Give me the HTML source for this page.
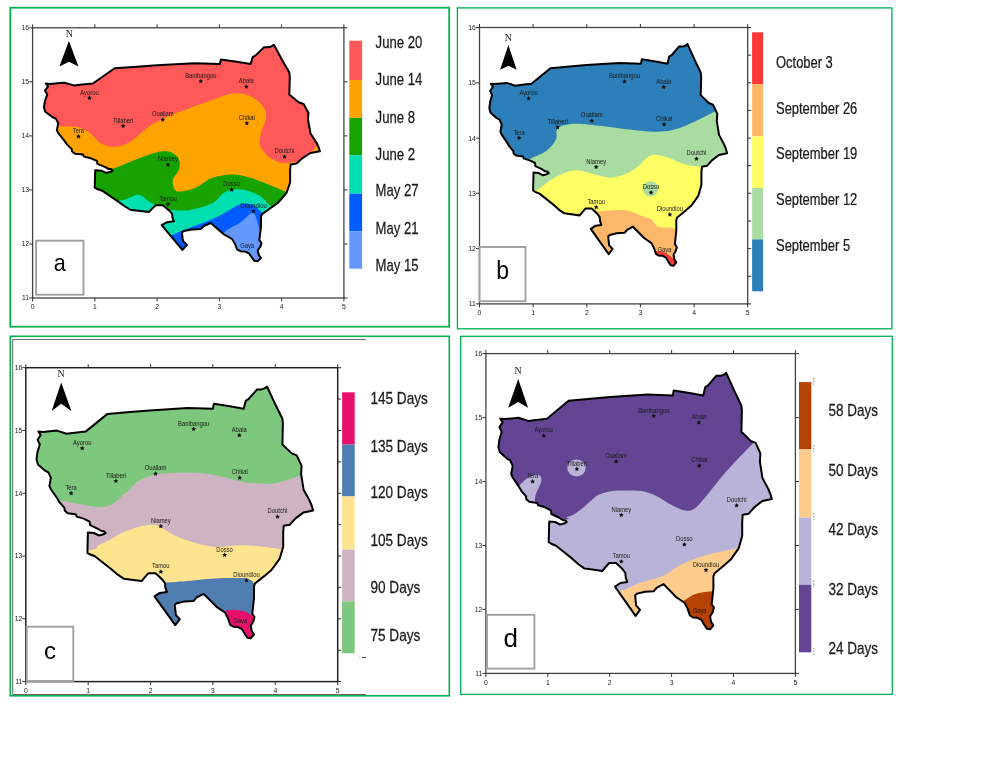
<!DOCTYPE html>
<html><head><meta charset="utf-8"><style>
html,body{margin:0;padding:0;background:#fff;}
body{width:1007px;height:776px;overflow:hidden;}
svg{display:block;font-family:"Liberation Sans", sans-serif;will-change:transform;}
</style></head><body>
<svg width="1007" height="776" viewBox="0 0 1007 776">
<rect width="1007" height="776" fill="#fff"/>
<rect x="10.3" y="7.7" width="438.9" height="319.0" fill="none" stroke="#00B050" stroke-width="1.8"/>
<rect x="457.4" y="7.9" width="434.5" height="320.9" fill="none" stroke="#00B050" stroke-width="1.3"/>
<rect x="10.3" y="336.3" width="439.0" height="359.5" fill="none" stroke="#00B050" stroke-width="1.6"/>
<rect x="460.7" y="336.3" width="431.6" height="358.1" fill="none" stroke="#00B050" stroke-width="1.3"/>
<path d="M366 339.6 H12.7 V694.5 H366" fill="none" stroke="#666" stroke-width="1"/>
<rect x="32.6" y="27.8" width="311.3" height="270.2" fill="none" stroke="#444" stroke-width="1.30"/><line x1="32.6" y1="298.0" x2="32.6" y2="301.5" stroke="#333" stroke-width="1"/><line x1="32.6" y1="24.3" x2="32.6" y2="27.8" stroke="#333" stroke-width="1"/><text x="32.6" y="309.3" font-size="6.8" text-anchor="middle" fill="#222">0</text><line x1="94.9" y1="298.0" x2="94.9" y2="301.5" stroke="#333" stroke-width="1"/><line x1="94.9" y1="24.3" x2="94.9" y2="27.8" stroke="#333" stroke-width="1"/><text x="94.9" y="309.3" font-size="6.8" text-anchor="middle" fill="#222">1</text><line x1="157.1" y1="298.0" x2="157.1" y2="301.5" stroke="#333" stroke-width="1"/><line x1="157.1" y1="24.3" x2="157.1" y2="27.8" stroke="#333" stroke-width="1"/><text x="157.1" y="309.3" font-size="6.8" text-anchor="middle" fill="#222">2</text><line x1="219.4" y1="298.0" x2="219.4" y2="301.5" stroke="#333" stroke-width="1"/><line x1="219.4" y1="24.3" x2="219.4" y2="27.8" stroke="#333" stroke-width="1"/><text x="219.4" y="309.3" font-size="6.8" text-anchor="middle" fill="#222">3</text><line x1="281.6" y1="298.0" x2="281.6" y2="301.5" stroke="#333" stroke-width="1"/><line x1="281.6" y1="24.3" x2="281.6" y2="27.8" stroke="#333" stroke-width="1"/><text x="281.6" y="309.3" font-size="6.8" text-anchor="middle" fill="#222">4</text><line x1="343.9" y1="298.0" x2="343.9" y2="301.5" stroke="#333" stroke-width="1"/><line x1="343.9" y1="24.3" x2="343.9" y2="27.8" stroke="#333" stroke-width="1"/><text x="343.9" y="309.3" font-size="6.8" text-anchor="middle" fill="#222">5</text><line x1="29.1" y1="27.8" x2="32.6" y2="27.8" stroke="#333" stroke-width="1"/><line x1="343.9" y1="27.8" x2="347.4" y2="27.8" stroke="#333" stroke-width="1"/><text x="29.0" y="30.2" font-size="6.8" text-anchor="end" fill="#222">16</text><line x1="29.1" y1="81.8" x2="32.6" y2="81.8" stroke="#333" stroke-width="1"/><line x1="343.9" y1="81.8" x2="347.4" y2="81.8" stroke="#333" stroke-width="1"/><text x="29.0" y="84.2" font-size="6.8" text-anchor="end" fill="#222">15</text><line x1="29.1" y1="135.9" x2="32.6" y2="135.9" stroke="#333" stroke-width="1"/><line x1="343.9" y1="135.9" x2="347.4" y2="135.9" stroke="#333" stroke-width="1"/><text x="29.0" y="138.3" font-size="6.8" text-anchor="end" fill="#222">14</text><line x1="29.1" y1="189.9" x2="32.6" y2="189.9" stroke="#333" stroke-width="1"/><line x1="343.9" y1="189.9" x2="347.4" y2="189.9" stroke="#333" stroke-width="1"/><text x="29.0" y="192.3" font-size="6.8" text-anchor="end" fill="#222">13</text><line x1="29.1" y1="244.0" x2="32.6" y2="244.0" stroke="#333" stroke-width="1"/><line x1="343.9" y1="244.0" x2="347.4" y2="244.0" stroke="#333" stroke-width="1"/><text x="29.0" y="246.4" font-size="6.8" text-anchor="end" fill="#222">12</text><line x1="29.1" y1="298.0" x2="32.6" y2="298.0" stroke="#333" stroke-width="1"/><line x1="343.9" y1="298.0" x2="347.4" y2="298.0" stroke="#333" stroke-width="1"/><text x="29.0" y="300.4" font-size="6.8" text-anchor="end" fill="#222">11</text>
<clipPath id="clipa"><path d="M45.8 83.5 L50.3 83.9 L57.3 83.3 L64.1 82.7 L74.0 85.4 L82.0 84.6 L92.9 83.5 L114.7 68.3 L137.2 66.8 L156.9 65.3 L194.6 63.2 L219.9 63.9 L220.9 59.6 L236.8 61.8 L250.7 63.9 L252.7 57.1 L255.7 55.4 L264.1 47.3 L268.5 47.3 L271.4 46.4 L273.9 44.8 L282.4 60.5 L289.3 72.4 L289.8 76.7 L289.3 94.6 L298.6 102.3 L303.6 104.0 L308.5 112.9 L308.0 119.8 L310.5 133.5 L316.5 142.8 L318.4 146.6 L319.9 151.3 L310.5 153.0 L302.5 158.1 L296.6 163.6 L290.6 164.5 L290.1 170.5 L290.1 182.5 L286.6 192.7 L281.7 198.6 L278.4 202.4 L270.7 208.0 L262.0 214.1 L261.0 216.5 L261.0 226.8 L259.9 235.3 L259.3 240.0 L261.5 242.9 L260.4 246.6 L257.7 250.4 L258.8 255.1 L261.0 257.9 L257.7 261.2 L254.4 260.8 L252.2 257.9 L248.9 253.2 L244.4 251.4 L240.5 251.2 L237.2 249.6 L234.9 243.7 L232.0 239.0 L228.0 236.7 L223.5 234.1 L210.7 223.0 L203.8 226.0 L200.8 229.0 L191.9 229.5 L183.9 231.1 L181.9 232.4 L182.9 241.0 L186.9 244.8 L182.4 249.9 L161.7 225.2 L167.0 222.2 L174.0 221.3 L172.5 217.9 L172.0 213.7 L169.5 210.8 L166.5 208.2 L162.7 205.2 L155.7 205.2 L151.7 209.1 L148.8 212.0 L138.8 210.8 L130.9 210.0 L124.9 206.5 L118.0 201.4 L109.1 195.4 L102.2 190.7 L97.2 189.0 L94.7 187.7 L95.2 170.2 L101.2 170.7 L106.2 172.8 L110.1 172.0 L112.8 170.7 L111.2 169.1 L108.7 169.0 L104.8 166.9 L97.4 163.9 L96.9 160.9 L90.9 158.3 L84.0 156.6 L83.0 154.5 L75.0 153.7 L72.1 151.5 L71.6 148.9 L67.1 144.6 L64.1 140.4 L58.3 133.1 L56.8 130.2 L58.3 123.3 L55.8 118.6 L52.3 117.0 L45.4 111.8 L43.9 107.5 L44.9 101.1 L47.2 94.6 L45.0 90.6 L48.1 86.4Z"/></clipPath><g clip-path="url(#clipa)"><polygon points="0.0,0.0 400.0,0.0 400.0,400.0 0.0,400.0" fill="#FF5858"/><path d="M20.0 120.0 C26.2 121.0 47.4 124.9 57.0 126.1 C66.6 127.2 72.1 125.7 77.7 126.9 C83.3 128.1 86.7 130.7 90.4 133.3 C94.1 136.0 96.2 140.6 99.9 142.8 C103.6 145.1 107.8 146.8 112.6 146.8 C117.4 146.8 122.1 146.4 128.5 142.8 C134.9 139.2 143.4 130.1 150.8 125.3 C158.2 120.5 168.1 116.5 173.0 114.2 C177.9 112.0 174.9 113.7 180.0 111.8 C185.1 109.9 195.1 106.1 203.8 103.1 C212.5 100.1 224.5 94.7 232.4 93.6 C240.3 92.5 246.2 94.3 251.5 96.7 C256.8 99.1 261.8 104.2 264.2 107.9 C266.6 111.6 266.3 114.8 265.8 119.0 C265.3 123.2 262.0 129.0 261.0 133.3 C260.0 137.6 259.3 141.7 260.0 145.0 C260.7 148.3 263.0 150.7 265.0 153.0 C267.0 155.3 269.0 157.3 272.0 159.0 C275.0 160.7 278.3 162.5 283.0 163.0 C287.7 163.5 290.5 161.7 300.0 162.0 C309.5 162.3 333.3 164.5 340.0 165.0 L340.0 300.0 L20.0 300.0Z" fill="#FFA300"/><polygon points="309.0,154.5 316.5,146.0 326.0,149.0 323.0,157.0" fill="#FFA300"/><path d="M20.0 172.0 C32.5 171.7 79.6 170.6 95.0 170.0 C110.4 169.4 104.9 170.7 112.6 168.6 C120.3 166.5 132.5 160.4 141.2 157.5 C149.9 154.6 158.9 151.1 165.0 151.1 C171.1 151.1 175.4 154.6 177.8 157.5 C180.2 160.4 180.2 164.9 179.4 168.6 C178.6 172.3 173.8 176.2 173.0 179.7 C172.2 183.1 173.4 187.3 174.6 189.3 C175.8 191.3 176.4 191.9 180.0 191.6 C183.6 191.3 190.6 189.9 195.9 187.7 C201.2 185.4 205.7 180.3 211.8 178.1 C217.9 175.9 225.8 174.6 232.4 174.6 C239.0 174.6 244.9 176.2 251.5 178.1 C258.1 180.0 266.6 183.8 272.2 186.1 C277.8 188.3 281.1 189.8 284.9 191.6 C288.7 193.4 285.8 195.6 295.0 197.0 C304.2 198.4 332.5 199.5 340.0 200.0 L340.0 300.0 L20.0 300.0Z" fill="#18A200"/><path d="M100.0 195.0 C103.4 195.9 114.3 200.4 120.6 200.4 C126.9 200.4 133.5 194.8 138.0 194.8 C142.5 194.8 144.7 198.7 147.6 200.4 C150.5 202.1 153.1 203.5 155.5 205.1 C157.9 206.7 159.6 209.2 162.0 210.0 C164.4 210.8 165.1 209.9 169.8 209.9 C174.5 209.9 183.0 211.0 190.0 209.9 C197.0 208.8 206.1 206.5 211.8 203.6 C217.6 200.7 219.7 194.8 224.5 192.4 C229.3 190.0 234.6 188.8 240.4 189.3 C246.2 189.8 254.2 192.7 259.4 195.6 C264.6 198.5 266.3 203.5 271.4 206.7 C276.5 209.9 286.9 213.6 290.0 215.0 L290.0 300.0 L100.0 300.0Z" fill="#00DFB0"/><path d="M160.0 240.0 C161.9 239.2 167.2 237.1 171.4 235.3 C175.6 233.6 179.6 231.6 185.0 229.5 C190.4 227.4 197.8 225.1 203.8 222.6 C209.9 220.1 215.2 217.8 221.3 214.7 C227.4 211.6 235.1 205.9 240.4 204.3 C245.7 202.7 249.4 203.6 253.1 205.1 C256.8 206.6 259.0 210.6 262.6 213.1 C266.2 215.6 272.9 218.8 275.0 220.0 L275.0 300.0 L160.0 300.0Z" fill="#005CFF"/><path d="M210.0 250.0 C212.4 247.0 219.4 236.8 224.5 232.2 C229.6 227.6 235.6 225.8 240.4 222.6 C245.2 219.4 249.9 212.0 253.1 213.1 C256.3 214.2 257.9 225.3 259.4 229.0 C260.9 232.7 261.6 234.0 262.0 235.0 L280.0 300.0 L210.0 300.0Z" fill="#6598FF"/></g><path d="M45.8 83.5 L50.3 83.9 L57.3 83.3 L64.1 82.7 L74.0 85.4 L82.0 84.6 L92.9 83.5 L114.7 68.3 L137.2 66.8 L156.9 65.3 L194.6 63.2 L219.9 63.9 L220.9 59.6 L236.8 61.8 L250.7 63.9 L252.7 57.1 L255.7 55.4 L264.1 47.3 L268.5 47.3 L271.4 46.4 L273.9 44.8 L282.4 60.5 L289.3 72.4 L289.8 76.7 L289.3 94.6 L298.6 102.3 L303.6 104.0 L308.5 112.9 L308.0 119.8 L310.5 133.5 L316.5 142.8 L318.4 146.6 L319.9 151.3 L310.5 153.0 L302.5 158.1 L296.6 163.6 L290.6 164.5 L290.1 170.5 L290.1 182.5 L286.6 192.7 L281.7 198.6 L278.4 202.4 L270.7 208.0 L262.0 214.1 L261.0 216.5 L261.0 226.8 L259.9 235.3 L259.3 240.0 L261.5 242.9 L260.4 246.6 L257.7 250.4 L258.8 255.1 L261.0 257.9 L257.7 261.2 L254.4 260.8 L252.2 257.9 L248.9 253.2 L244.4 251.4 L240.5 251.2 L237.2 249.6 L234.9 243.7 L232.0 239.0 L228.0 236.7 L223.5 234.1 L210.7 223.0 L203.8 226.0 L200.8 229.0 L191.9 229.5 L183.9 231.1 L181.9 232.4 L182.9 241.0 L186.9 244.8 L182.4 249.9 L161.7 225.2 L167.0 222.2 L174.0 221.3 L172.5 217.9 L172.0 213.7 L169.5 210.8 L166.5 208.2 L162.7 205.2 L155.7 205.2 L151.7 209.1 L148.8 212.0 L138.8 210.8 L130.9 210.0 L124.9 206.5 L118.0 201.4 L109.1 195.4 L102.2 190.7 L97.2 189.0 L94.7 187.7 L95.2 170.2 L101.2 170.7 L106.2 172.8 L110.1 172.0 L112.8 170.7 L111.2 169.1 L108.7 169.0 L104.8 166.9 L97.4 163.9 L96.9 160.9 L90.9 158.3 L84.0 156.6 L83.0 154.5 L75.0 153.7 L72.1 151.5 L71.6 148.9 L67.1 144.6 L64.1 140.4 L58.3 133.1 L56.8 130.2 L58.3 123.3 L55.8 118.6 L52.3 117.0 L45.4 111.8 L43.9 107.5 L44.9 101.1 L47.2 94.6 L45.0 90.6 L48.1 86.4Z" fill="none" stroke="#000" stroke-width="2.0" stroke-linejoin="round"/><polygon points="89.49,95.38 90.23,96.87 91.87,97.10 90.68,98.26 90.96,99.90 89.49,99.13 88.02,99.90 88.30,98.26 87.11,97.10 88.76,96.87" fill="#111"/><text transform="translate(89.5 94.5) scale(0.86 1)" font-size="6.8" text-anchor="middle" fill="#1a1a1a">Ayorou</text><polygon points="123.13,123.40 123.86,124.89 125.50,125.12 124.32,126.28 124.60,127.92 123.13,127.15 121.66,127.92 121.94,126.28 120.75,125.12 122.39,124.89" fill="#111"/><text transform="translate(123.1 122.5) scale(0.86 1)" font-size="6.8" text-anchor="middle" fill="#1a1a1a">Tillaberi</text><polygon points="162.75,117.21 163.49,118.70 165.13,118.94 163.94,120.09 164.22,121.73 162.75,120.96 161.28,121.73 161.56,120.09 160.37,118.94 162.02,118.70" fill="#111"/><text transform="translate(162.8 116.3) scale(0.86 1)" font-size="6.8" text-anchor="middle" fill="#1a1a1a">Ouallam</text><polygon points="78.41,134.05 79.15,135.54 80.79,135.78 79.60,136.94 79.88,138.58 78.41,137.80 76.94,138.58 77.22,136.94 76.04,135.78 77.68,135.54" fill="#111"/><text transform="translate(78.4 133.2) scale(0.86 1)" font-size="6.8" text-anchor="middle" fill="#1a1a1a">Tera</text><polygon points="200.78,78.70 201.51,80.19 203.15,80.43 201.97,81.59 202.25,83.22 200.78,82.45 199.31,83.22 199.59,81.59 198.40,80.43 200.04,80.19" fill="#111"/><text transform="translate(200.8 77.8) scale(0.86 1)" font-size="6.8" text-anchor="middle" fill="#1a1a1a">Banibangou</text><polygon points="246.29,84.20 247.02,85.69 248.67,85.93 247.48,87.09 247.76,88.73 246.29,87.95 244.82,88.73 245.10,87.09 243.91,85.93 245.55,85.69" fill="#111"/><text transform="translate(246.3 83.3) scale(0.86 1)" font-size="6.8" text-anchor="middle" fill="#1a1a1a">Abala</text><polygon points="246.79,120.65 247.52,122.13 249.17,122.37 247.98,123.53 248.26,125.17 246.79,124.40 245.32,125.17 245.60,123.53 244.41,122.37 246.05,122.13" fill="#111"/><text transform="translate(246.8 119.7) scale(0.86 1)" font-size="6.8" text-anchor="middle" fill="#1a1a1a">Chikal</text><polygon points="167.94,162.33 168.68,163.82 170.32,164.06 169.13,165.22 169.41,166.85 167.94,166.08 166.47,166.85 166.75,165.22 165.56,164.06 167.21,163.82" fill="#111"/><text transform="translate(167.9 161.4) scale(0.86 1)" font-size="6.8" text-anchor="middle" fill="#1a1a1a">Niamey</text><polygon points="167.94,201.53 168.68,203.01 170.32,203.25 169.13,204.41 169.41,206.05 167.94,205.28 166.47,206.05 166.75,204.41 165.56,203.25 167.21,203.01" fill="#111"/><text transform="translate(167.9 200.6) scale(0.86 1)" font-size="6.8" text-anchor="middle" fill="#1a1a1a">Tamou</text><polygon points="231.62,187.17 232.35,188.66 234.00,188.90 232.81,190.06 233.09,191.69 231.62,190.92 230.15,191.69 230.43,190.06 229.24,188.90 230.88,188.66" fill="#111"/><text transform="translate(231.6 186.3) scale(0.86 1)" font-size="6.8" text-anchor="middle" fill="#1a1a1a">Dosso</text><polygon points="284.42,154.17 285.15,155.66 286.79,155.89 285.60,157.05 285.89,158.69 284.42,157.92 282.95,158.69 283.23,157.05 282.04,155.89 283.68,155.66" fill="#111"/><text transform="translate(284.4 153.3) scale(0.86 1)" font-size="6.8" text-anchor="middle" fill="#1a1a1a">Doutchi</text><polygon points="253.48,208.75 254.21,210.23 255.85,210.47 254.66,211.63 254.94,213.27 253.48,212.50 252.01,213.27 252.29,211.63 251.10,210.47 252.74,210.23" fill="#111"/><text transform="translate(253.5 207.8) scale(0.86 1)" font-size="6.8" text-anchor="middle" fill="#1a1a1a">Dioundiou</text><text transform="translate(247.1 248.1) scale(0.86 1)" font-size="6.8" text-anchor="middle" fill="#1a1a1a">Gaya</text>
<polygon points="68.9,41.1 78.5,66.5 68.9,61.8 59.4,66.5" fill="#000"/><text x="69.4" y="36.7" font-family="Liberation Serif, serif" font-size="10" text-anchor="middle" fill="#222">N</text>
<rect x="36.1" y="240.7" width="47.4" height="54.0" fill="#fff" stroke="#a0a0a0" stroke-width="1.9"/><text transform="translate(59.8 271.4) scale(0.900 1)" font-size="24.0" text-anchor="middle" fill="#000">a</text>
<rect x="349.3" y="40.7" width="12.8" height="39.3" fill="#FF5858"/><rect x="349.3" y="80.0" width="12.8" height="37.9" fill="#FFA300"/><rect x="349.3" y="117.9" width="12.8" height="37.5" fill="#18A200"/><rect x="349.3" y="155.4" width="12.8" height="38.3" fill="#00DFB0"/><rect x="349.3" y="193.7" width="12.8" height="37.5" fill="#005CFF"/><rect x="349.3" y="231.2" width="12.8" height="37.5" fill="#6598FF"/><text transform="translate(375.6 48.2) scale(0.800 1)" font-size="16.4" fill="#1a1a1a" stroke="#1a1a1a" stroke-width="0.25">June 20</text><text transform="translate(375.6 85.2) scale(0.800 1)" font-size="16.4" fill="#1a1a1a" stroke="#1a1a1a" stroke-width="0.25">June 14</text><text transform="translate(375.6 123.0) scale(0.800 1)" font-size="16.4" fill="#1a1a1a" stroke="#1a1a1a" stroke-width="0.25">June 8</text><text transform="translate(375.6 160.1) scale(0.800 1)" font-size="16.4" fill="#1a1a1a" stroke="#1a1a1a" stroke-width="0.25">June 2</text><text transform="translate(375.6 196.2) scale(0.800 1)" font-size="16.4" fill="#1a1a1a" stroke="#1a1a1a" stroke-width="0.25">May 27</text><text transform="translate(375.6 233.6) scale(0.800 1)" font-size="16.4" fill="#1a1a1a" stroke="#1a1a1a" stroke-width="0.25">May 21</text><text transform="translate(375.6 271.0) scale(0.800 1)" font-size="16.4" fill="#1a1a1a" stroke="#1a1a1a" stroke-width="0.25">May 15</text>
<rect x="479.5" y="27.5" width="268.2" height="276.4" fill="none" stroke="#444" stroke-width="1.30"/><line x1="479.5" y1="303.9" x2="479.5" y2="307.4" stroke="#333" stroke-width="1"/><line x1="479.5" y1="24.0" x2="479.5" y2="27.5" stroke="#333" stroke-width="1"/><text x="479.5" y="315.2" font-size="6.8" text-anchor="middle" fill="#222">0</text><line x1="533.1" y1="303.9" x2="533.1" y2="307.4" stroke="#333" stroke-width="1"/><line x1="533.1" y1="24.0" x2="533.1" y2="27.5" stroke="#333" stroke-width="1"/><text x="533.1" y="315.2" font-size="6.8" text-anchor="middle" fill="#222">1</text><line x1="586.8" y1="303.9" x2="586.8" y2="307.4" stroke="#333" stroke-width="1"/><line x1="586.8" y1="24.0" x2="586.8" y2="27.5" stroke="#333" stroke-width="1"/><text x="586.8" y="315.2" font-size="6.8" text-anchor="middle" fill="#222">2</text><line x1="640.4" y1="303.9" x2="640.4" y2="307.4" stroke="#333" stroke-width="1"/><line x1="640.4" y1="24.0" x2="640.4" y2="27.5" stroke="#333" stroke-width="1"/><text x="640.4" y="315.2" font-size="6.8" text-anchor="middle" fill="#222">3</text><line x1="694.1" y1="303.9" x2="694.1" y2="307.4" stroke="#333" stroke-width="1"/><line x1="694.1" y1="24.0" x2="694.1" y2="27.5" stroke="#333" stroke-width="1"/><text x="694.1" y="315.2" font-size="6.8" text-anchor="middle" fill="#222">4</text><line x1="747.7" y1="303.9" x2="747.7" y2="307.4" stroke="#333" stroke-width="1"/><line x1="747.7" y1="24.0" x2="747.7" y2="27.5" stroke="#333" stroke-width="1"/><text x="747.7" y="315.2" font-size="6.8" text-anchor="middle" fill="#222">5</text><line x1="476.0" y1="27.5" x2="479.5" y2="27.5" stroke="#333" stroke-width="1"/><line x1="747.7" y1="27.5" x2="751.2" y2="27.5" stroke="#333" stroke-width="1"/><text x="475.9" y="29.9" font-size="6.8" text-anchor="end" fill="#222">16</text><line x1="476.0" y1="82.8" x2="479.5" y2="82.8" stroke="#333" stroke-width="1"/><line x1="747.7" y1="82.8" x2="751.2" y2="82.8" stroke="#333" stroke-width="1"/><text x="475.9" y="85.2" font-size="6.8" text-anchor="end" fill="#222">15</text><line x1="476.0" y1="138.1" x2="479.5" y2="138.1" stroke="#333" stroke-width="1"/><line x1="747.7" y1="138.1" x2="751.2" y2="138.1" stroke="#333" stroke-width="1"/><text x="475.9" y="140.5" font-size="6.8" text-anchor="end" fill="#222">14</text><line x1="476.0" y1="193.3" x2="479.5" y2="193.3" stroke="#333" stroke-width="1"/><line x1="747.7" y1="193.3" x2="751.2" y2="193.3" stroke="#333" stroke-width="1"/><text x="475.9" y="195.7" font-size="6.8" text-anchor="end" fill="#222">13</text><line x1="476.0" y1="248.6" x2="479.5" y2="248.6" stroke="#333" stroke-width="1"/><line x1="747.7" y1="248.6" x2="751.2" y2="248.6" stroke="#333" stroke-width="1"/><text x="475.9" y="251.0" font-size="6.8" text-anchor="end" fill="#222">12</text><line x1="476.0" y1="303.9" x2="479.5" y2="303.9" stroke="#333" stroke-width="1"/><line x1="747.7" y1="303.9" x2="751.2" y2="303.9" stroke="#333" stroke-width="1"/><text x="475.9" y="306.3" font-size="6.8" text-anchor="end" fill="#222">11</text><line x1="747.7" y1="55.1" x2="751.2" y2="55.1" stroke="#333" stroke-width="1"/><line x1="747.7" y1="110.4" x2="751.2" y2="110.4" stroke="#333" stroke-width="1"/><line x1="747.7" y1="165.7" x2="751.2" y2="165.7" stroke="#333" stroke-width="1"/><line x1="747.7" y1="221.0" x2="751.2" y2="221.0" stroke="#333" stroke-width="1"/><line x1="747.7" y1="276.3" x2="751.2" y2="276.3" stroke="#333" stroke-width="1"/>
<clipPath id="clipb"><path d="M490.9 83.8 L494.8 84.1 L500.8 83.5 L506.8 82.9 L515.3 85.7 L522.1 84.8 L531.5 83.8 L550.4 68.2 L569.7 66.6 L586.6 65.1 L619.1 62.9 L641.0 63.7 L641.8 59.3 L655.5 61.5 L667.5 63.7 L669.2 56.7 L671.8 55.0 L679.0 46.6 L682.9 46.6 L685.4 45.7 L687.5 44.1 L694.8 60.2 L700.7 72.4 L701.2 76.8 L700.7 95.1 L708.7 103.0 L713.0 104.7 L717.3 113.9 L716.8 120.9 L719.0 134.9 L724.1 144.5 L725.8 148.4 L727.1 153.2 L719.0 154.9 L712.1 160.2 L707.0 165.8 L701.9 166.7 L701.4 172.9 L701.4 185.1 L698.4 195.6 L694.2 201.7 L691.4 205.5 L684.8 211.3 L677.2 217.5 L676.3 220.0 L676.3 230.6 L675.4 239.3 L674.9 244.1 L676.8 247.0 L675.8 250.8 L673.5 254.7 L674.4 259.5 L676.3 262.4 L673.5 265.8 L670.7 265.3 L668.8 262.4 L665.9 257.6 L662.1 255.7 L658.7 255.6 L655.9 253.9 L653.9 247.9 L651.4 243.1 L648.0 240.7 L644.1 238.0 L633.0 226.7 L627.1 229.8 L624.5 232.8 L616.8 233.3 L609.9 235.0 L608.2 236.3 L609.1 245.1 L612.5 249.0 L608.7 254.2 L590.8 228.9 L595.4 225.8 L601.4 224.9 L600.1 221.4 L599.7 217.1 L597.6 214.2 L595.0 211.5 L591.6 208.4 L585.6 208.4 L582.2 212.4 L579.7 215.4 L571.1 214.2 L564.3 213.3 L559.1 209.8 L553.2 204.5 L545.5 198.4 L539.5 193.6 L535.2 191.8 L533.1 190.5 L533.5 172.6 L538.7 173.1 L543.0 175.3 L546.3 174.4 L548.7 173.1 L547.3 171.5 L545.1 171.3 L541.8 169.2 L535.4 166.1 L535.0 163.0 L529.8 160.4 L523.9 158.6 L523.0 156.5 L516.1 155.6 L513.6 153.4 L513.2 150.8 L509.3 146.4 L506.8 142.1 L501.7 134.6 L500.4 131.6 L501.7 124.5 L499.5 119.7 L496.5 118.0 L490.6 112.7 L489.3 108.3 L490.2 101.7 L492.1 95.1 L490.2 91.0 L492.9 86.8Z"/></clipPath><g clip-path="url(#clipb)"><polygon points="450.0,0.0 800.0,0.0 800.0,400.0 450.0,400.0" fill="#2C7FB8"/><path d="M520.0 165.0 C521.5 164.1 524.6 161.8 529.0 159.4 C533.4 157.0 542.0 154.0 546.5 150.7 C551.0 147.4 554.3 142.9 556.0 139.5 C557.7 136.1 555.5 132.4 556.8 130.0 C558.1 127.6 560.4 126.3 564.0 125.3 C567.6 124.2 571.9 123.6 578.3 123.7 C584.6 123.8 594.0 125.2 602.1 126.1 C610.2 127.0 617.4 128.4 626.8 129.3 C636.2 130.2 649.3 132.1 658.6 131.7 C667.9 131.3 673.1 130.2 682.4 126.9 C691.7 123.6 707.9 115.0 714.2 111.8 C720.5 108.6 712.4 109.1 720.0 108.0 C727.6 106.9 753.3 105.5 760.0 105.0 L760.0 320.0 L520.0 320.0Z" fill="#A8DCA0"/><path d="M520.0 200.0 C522.6 198.5 529.7 194.9 535.4 191.2 C541.1 187.5 548.0 181.1 554.4 177.7 C560.8 174.2 567.7 171.3 573.5 170.5 C579.3 169.7 583.3 171.7 589.4 172.9 C595.5 174.1 605.1 177.2 610.0 177.7 C614.9 178.2 615.8 176.9 618.8 176.1 C621.8 175.3 624.8 174.6 628.0 173.0 C631.2 171.4 634.1 169.4 637.9 166.5 C641.7 163.6 645.8 157.0 650.6 155.4 C655.4 153.8 660.9 155.5 666.5 157.0 C672.1 158.5 677.9 162.6 684.0 164.2 C690.1 165.8 697.0 166.2 703.0 166.5 C709.0 166.8 710.5 166.1 720.0 166.0 C729.5 165.9 753.3 166.0 760.0 166.0 L760.0 320.0 L520.0 320.0Z" fill="#FFFF64"/><circle cx="650.6" cy="188.8" r="7.6" fill="#A8DCA0"/><path d="M520.0 213.0 C529.5 213.1 563.1 213.7 576.7 213.4 C590.3 213.1 593.6 211.6 601.8 211.1 C609.9 210.6 619.0 209.5 625.6 210.3 C632.2 211.1 637.3 214.5 641.5 215.9 C645.7 217.3 647.7 217.2 650.6 219.0 C653.5 220.8 655.5 225.6 659.0 227.0 C662.5 228.4 668.5 227.3 671.3 227.7 C674.1 228.1 672.9 228.6 676.0 229.3 C679.1 230.0 676.0 231.6 690.0 232.0 C704.0 232.4 748.3 232.0 760.0 232.0 L760.0 320.0 L520.0 320.0Z" fill="#FCB868"/><path d="M645.0 249.0 C646.2 249.2 649.8 250.1 652.0 250.5 C654.2 250.9 656.0 250.9 658.0 251.2 C660.0 251.5 662.2 251.7 664.0 252.3 C665.8 252.9 667.1 253.9 668.5 254.8 C669.9 255.8 671.1 257.0 672.5 258.0 C673.9 259.0 674.9 260.2 677.0 261.0 C679.1 261.8 683.7 262.7 685.0 263.0 L685.0 300.0 L645.0 300.0Z" fill="#FF3838"/></g><path d="M490.9 83.8 L494.8 84.1 L500.8 83.5 L506.8 82.9 L515.3 85.7 L522.1 84.8 L531.5 83.8 L550.4 68.2 L569.7 66.6 L586.6 65.1 L619.1 62.9 L641.0 63.7 L641.8 59.3 L655.5 61.5 L667.5 63.7 L669.2 56.7 L671.8 55.0 L679.0 46.6 L682.9 46.6 L685.4 45.7 L687.5 44.1 L694.8 60.2 L700.7 72.4 L701.2 76.8 L700.7 95.1 L708.7 103.0 L713.0 104.7 L717.3 113.9 L716.8 120.9 L719.0 134.9 L724.1 144.5 L725.8 148.4 L727.1 153.2 L719.0 154.9 L712.1 160.2 L707.0 165.8 L701.9 166.7 L701.4 172.9 L701.4 185.1 L698.4 195.6 L694.2 201.7 L691.4 205.5 L684.8 211.3 L677.2 217.5 L676.3 220.0 L676.3 230.6 L675.4 239.3 L674.9 244.1 L676.8 247.0 L675.8 250.8 L673.5 254.7 L674.4 259.5 L676.3 262.4 L673.5 265.8 L670.7 265.3 L668.8 262.4 L665.9 257.6 L662.1 255.7 L658.7 255.6 L655.9 253.9 L653.9 247.9 L651.4 243.1 L648.0 240.7 L644.1 238.0 L633.0 226.7 L627.1 229.8 L624.5 232.8 L616.8 233.3 L609.9 235.0 L608.2 236.3 L609.1 245.1 L612.5 249.0 L608.7 254.2 L590.8 228.9 L595.4 225.8 L601.4 224.9 L600.1 221.4 L599.7 217.1 L597.6 214.2 L595.0 211.5 L591.6 208.4 L585.6 208.4 L582.2 212.4 L579.7 215.4 L571.1 214.2 L564.3 213.3 L559.1 209.8 L553.2 204.5 L545.5 198.4 L539.5 193.6 L535.2 191.8 L533.1 190.5 L533.5 172.6 L538.7 173.1 L543.0 175.3 L546.3 174.4 L548.7 173.1 L547.3 171.5 L545.1 171.3 L541.8 169.2 L535.4 166.1 L535.0 163.0 L529.8 160.4 L523.9 158.6 L523.0 156.5 L516.1 155.6 L513.6 153.4 L513.2 150.8 L509.3 146.4 L506.8 142.1 L501.7 134.6 L500.4 131.6 L501.7 124.5 L499.5 119.7 L496.5 118.0 L490.6 112.7 L489.3 108.3 L490.2 101.7 L492.1 95.1 L490.2 91.0 L492.9 86.8Z" fill="none" stroke="#000" stroke-width="2.0" stroke-linejoin="round"/><polygon points="528.60,95.97 529.33,97.46 530.98,97.70 529.79,98.86 530.07,100.49 528.60,99.72 527.13,100.49 527.41,98.86 526.22,97.70 527.86,97.46" fill="#111"/><text transform="translate(528.6 95.1) scale(0.86 1)" font-size="6.8" text-anchor="middle" fill="#1a1a1a">Ayorou</text><polygon points="557.58,124.68 558.31,126.17 559.95,126.40 558.76,127.56 559.05,129.20 557.58,128.43 556.11,129.20 556.39,127.56 555.20,126.40 556.84,126.17" fill="#111"/><text transform="translate(557.6 123.8) scale(0.86 1)" font-size="6.8" text-anchor="middle" fill="#1a1a1a">Tillaberi</text><polygon points="591.71,118.34 592.45,119.83 594.09,120.06 592.90,121.22 593.18,122.86 591.71,122.09 590.24,122.86 590.53,121.22 589.34,120.06 590.98,119.83" fill="#111"/><text transform="translate(591.7 117.4) scale(0.86 1)" font-size="6.8" text-anchor="middle" fill="#1a1a1a">Ouallam</text><polygon points="519.05,135.60 519.79,137.08 521.43,137.32 520.24,138.48 520.52,140.12 519.05,139.35 517.58,140.12 517.86,138.48 516.68,137.32 518.32,137.08" fill="#111"/><text transform="translate(519.1 134.7) scale(0.86 1)" font-size="6.8" text-anchor="middle" fill="#1a1a1a">Tera</text><polygon points="624.48,78.89 625.21,80.38 626.85,80.62 625.66,81.78 625.95,83.41 624.48,82.64 623.01,83.41 623.29,81.78 622.10,80.62 623.74,80.38" fill="#111"/><text transform="translate(624.5 78.0) scale(0.86 1)" font-size="6.8" text-anchor="middle" fill="#1a1a1a">Banibangou</text><polygon points="663.69,84.52 664.42,86.01 666.06,86.25 664.88,87.41 665.16,89.05 663.69,88.27 662.22,89.05 662.50,87.41 661.31,86.25 662.95,86.01" fill="#111"/><text transform="translate(663.7 83.6) scale(0.86 1)" font-size="6.8" text-anchor="middle" fill="#1a1a1a">Abala</text><polygon points="664.12,121.86 664.85,123.35 666.49,123.59 665.31,124.75 665.59,126.38 664.12,125.61 662.65,126.38 662.93,124.75 661.74,123.59 663.38,123.35" fill="#111"/><text transform="translate(664.1 121.0) scale(0.86 1)" font-size="6.8" text-anchor="middle" fill="#1a1a1a">Chikal</text><polygon points="596.19,164.56 596.92,166.05 598.56,166.29 597.37,167.45 597.65,169.09 596.19,168.31 594.72,169.09 595.00,167.45 593.81,166.29 595.45,166.05" fill="#111"/><text transform="translate(596.2 163.7) scale(0.86 1)" font-size="6.8" text-anchor="middle" fill="#1a1a1a">Niamey</text><polygon points="596.19,204.72 596.92,206.21 598.56,206.44 597.37,207.60 597.65,209.24 596.19,208.47 594.72,209.24 595.00,207.60 593.81,206.44 595.45,206.21" fill="#111"/><text transform="translate(596.2 203.8) scale(0.86 1)" font-size="6.8" text-anchor="middle" fill="#1a1a1a">Tamou</text><polygon points="651.05,190.01 651.78,191.50 653.42,191.74 652.24,192.90 652.52,194.53 651.05,193.76 649.58,194.53 649.86,192.90 648.67,191.74 650.31,191.50" fill="#111"/><text transform="translate(651.0 189.1) scale(0.86 1)" font-size="6.8" text-anchor="middle" fill="#1a1a1a">Dosso</text><polygon points="696.53,156.20 697.27,157.69 698.91,157.93 697.72,159.09 698.00,160.72 696.53,159.95 695.07,160.72 695.35,159.09 694.16,157.93 695.80,157.69" fill="#111"/><text transform="translate(696.5 155.3) scale(0.86 1)" font-size="6.8" text-anchor="middle" fill="#1a1a1a">Doutchi</text><polygon points="669.88,212.11 670.61,213.60 672.26,213.84 671.07,215.00 671.35,216.64 669.88,215.86 668.41,216.64 668.69,215.00 667.50,213.84 669.14,213.60" fill="#111"/><text transform="translate(669.9 211.2) scale(0.86 1)" font-size="6.8" text-anchor="middle" fill="#1a1a1a">Dioundiou</text><text transform="translate(664.4 252.3) scale(0.86 1)" font-size="6.8" text-anchor="middle" fill="#1a1a1a">Gaya</text>
<polygon points="508.4,45.1 516.6,69.7 508.4,65.7 500.1,69.7" fill="#000"/><text x="508.4" y="40.6" font-family="Liberation Serif, serif" font-size="10" text-anchor="middle" fill="#222">N</text>
<rect x="479.6" y="247.0" width="45.9" height="54.2" fill="#fff" stroke="#a0a0a0" stroke-width="1.9"/><text transform="translate(502.6 279.1) scale(0.920 1)" font-size="25.0" text-anchor="middle" fill="#000">b</text>
<rect x="752.1" y="32.3" width="11.0" height="51.7" fill="#FF3838"/><rect x="752.1" y="84.0" width="11.0" height="52.4" fill="#FCB868"/><rect x="752.1" y="136.4" width="11.0" height="51.6" fill="#FFFF64"/><rect x="752.1" y="188.0" width="11.0" height="51.4" fill="#A8DCA0"/><rect x="752.1" y="239.4" width="11.0" height="51.9" fill="#2C7FB8"/><text transform="translate(776.0 67.8) scale(0.825 1)" font-size="15.7" fill="#1a1a1a" stroke="#1a1a1a" stroke-width="0.25">October 3</text><text transform="translate(776.0 114.2) scale(0.825 1)" font-size="15.7" fill="#1a1a1a" stroke="#1a1a1a" stroke-width="0.25">September 26</text><text transform="translate(776.0 159.4) scale(0.825 1)" font-size="15.7" fill="#1a1a1a" stroke="#1a1a1a" stroke-width="0.25">September 19</text><text transform="translate(776.0 205.1) scale(0.825 1)" font-size="15.7" fill="#1a1a1a" stroke="#1a1a1a" stroke-width="0.25">September 12</text><text transform="translate(776.0 251.1) scale(0.825 1)" font-size="15.7" fill="#1a1a1a" stroke="#1a1a1a" stroke-width="0.25">September 5</text>
<rect x="25.8" y="367.7" width="311.9" height="313.9" fill="none" stroke="#222" stroke-width="1.50"/><line x1="25.8" y1="681.6" x2="25.8" y2="685.1" stroke="#333" stroke-width="1"/><line x1="25.8" y1="364.2" x2="25.8" y2="367.7" stroke="#333" stroke-width="1"/><text x="25.8" y="692.9" font-size="6.8" text-anchor="middle" fill="#222">0</text><line x1="88.2" y1="681.6" x2="88.2" y2="685.1" stroke="#333" stroke-width="1"/><line x1="88.2" y1="364.2" x2="88.2" y2="367.7" stroke="#333" stroke-width="1"/><text x="88.2" y="692.9" font-size="6.8" text-anchor="middle" fill="#222">1</text><line x1="150.6" y1="681.6" x2="150.6" y2="685.1" stroke="#333" stroke-width="1"/><line x1="150.6" y1="364.2" x2="150.6" y2="367.7" stroke="#333" stroke-width="1"/><text x="150.6" y="692.9" font-size="6.8" text-anchor="middle" fill="#222">2</text><line x1="212.9" y1="681.6" x2="212.9" y2="685.1" stroke="#333" stroke-width="1"/><line x1="212.9" y1="364.2" x2="212.9" y2="367.7" stroke="#333" stroke-width="1"/><text x="212.9" y="692.9" font-size="6.8" text-anchor="middle" fill="#222">3</text><line x1="275.3" y1="681.6" x2="275.3" y2="685.1" stroke="#333" stroke-width="1"/><line x1="275.3" y1="364.2" x2="275.3" y2="367.7" stroke="#333" stroke-width="1"/><text x="275.3" y="692.9" font-size="6.8" text-anchor="middle" fill="#222">4</text><line x1="337.7" y1="681.6" x2="337.7" y2="685.1" stroke="#333" stroke-width="1"/><line x1="337.7" y1="364.2" x2="337.7" y2="367.7" stroke="#333" stroke-width="1"/><text x="337.7" y="692.9" font-size="6.8" text-anchor="middle" fill="#222">5</text><line x1="22.3" y1="367.7" x2="25.8" y2="367.7" stroke="#333" stroke-width="1"/><line x1="337.7" y1="367.7" x2="341.2" y2="367.7" stroke="#333" stroke-width="1"/><text x="22.2" y="370.1" font-size="6.8" text-anchor="end" fill="#222">16</text><line x1="22.3" y1="430.5" x2="25.8" y2="430.5" stroke="#333" stroke-width="1"/><line x1="337.7" y1="430.5" x2="341.2" y2="430.5" stroke="#333" stroke-width="1"/><text x="22.2" y="432.9" font-size="6.8" text-anchor="end" fill="#222">15</text><line x1="22.3" y1="493.3" x2="25.8" y2="493.3" stroke="#333" stroke-width="1"/><line x1="337.7" y1="493.3" x2="341.2" y2="493.3" stroke="#333" stroke-width="1"/><text x="22.2" y="495.7" font-size="6.8" text-anchor="end" fill="#222">14</text><line x1="22.3" y1="556.0" x2="25.8" y2="556.0" stroke="#333" stroke-width="1"/><line x1="337.7" y1="556.0" x2="341.2" y2="556.0" stroke="#333" stroke-width="1"/><text x="22.2" y="558.4" font-size="6.8" text-anchor="end" fill="#222">13</text><line x1="22.3" y1="618.8" x2="25.8" y2="618.8" stroke="#333" stroke-width="1"/><line x1="337.7" y1="618.8" x2="341.2" y2="618.8" stroke="#333" stroke-width="1"/><text x="22.2" y="621.2" font-size="6.8" text-anchor="end" fill="#222">12</text><line x1="22.3" y1="681.6" x2="25.8" y2="681.6" stroke="#333" stroke-width="1"/><line x1="337.7" y1="681.6" x2="341.2" y2="681.6" stroke="#333" stroke-width="1"/><text x="22.2" y="684.0" font-size="6.8" text-anchor="end" fill="#222">11</text><line x1="337.7" y1="399.1" x2="341.2" y2="399.1" stroke="#333" stroke-width="1"/><line x1="337.7" y1="461.9" x2="341.2" y2="461.9" stroke="#333" stroke-width="1"/><line x1="337.7" y1="524.6" x2="341.2" y2="524.6" stroke="#333" stroke-width="1"/><line x1="337.7" y1="587.4" x2="341.2" y2="587.4" stroke="#333" stroke-width="1"/><line x1="337.7" y1="650.2" x2="341.2" y2="650.2" stroke="#333" stroke-width="1"/>
<clipPath id="clipc"><path d="M38.4 431.6 L42.9 432.0 L49.9 431.3 L56.8 430.6 L66.7 433.8 L74.7 432.8 L85.6 431.6 L107.5 413.9 L130.0 412.1 L149.7 410.4 L187.5 407.9 L212.9 408.8 L213.9 403.8 L229.8 406.3 L243.7 408.8 L245.7 400.9 L248.7 398.9 L257.1 389.4 L261.6 389.4 L264.5 388.4 L267.0 386.5 L275.5 404.8 L282.4 418.7 L282.9 423.7 L282.4 444.5 L291.7 453.4 L296.7 455.4 L301.6 465.8 L301.1 473.8 L303.6 489.7 L309.6 500.6 L311.5 505.0 L313.1 510.5 L303.6 512.4 L295.6 518.4 L289.7 524.8 L283.7 525.8 L283.2 532.8 L283.2 546.7 L279.7 558.6 L274.8 565.5 L271.5 569.9 L263.8 576.4 L255.0 583.5 L254.0 586.3 L254.0 598.3 L252.9 608.2 L252.3 613.7 L254.5 617.0 L253.4 621.3 L250.7 625.7 L251.8 631.2 L254.0 634.5 L250.7 638.3 L247.4 637.8 L245.2 634.5 L241.9 629.0 L237.4 626.9 L233.5 626.7 L230.2 624.8 L227.9 618.0 L225.0 612.5 L221.0 609.8 L216.5 606.8 L203.6 593.9 L196.7 597.4 L193.7 600.9 L184.8 601.4 L176.8 603.3 L174.8 604.8 L175.8 614.8 L179.8 619.2 L175.3 625.2 L154.5 596.4 L159.9 592.9 L166.9 591.9 L165.4 587.9 L164.9 583.0 L162.4 579.7 L159.4 576.7 L155.5 573.2 L148.5 573.2 L144.5 577.7 L141.6 581.1 L131.6 579.7 L123.7 578.7 L117.7 574.7 L110.8 568.7 L101.8 561.8 L94.9 556.3 L89.9 554.3 L87.4 552.8 L87.9 532.5 L93.9 533.0 L98.9 535.5 L102.8 534.5 L105.6 533.0 L104.0 531.2 L101.4 531.0 L97.5 528.6 L90.1 525.1 L89.6 521.6 L83.6 518.6 L76.7 516.6 L75.7 514.2 L67.7 513.2 L64.8 510.7 L64.3 507.7 L59.8 502.7 L56.8 497.8 L50.9 489.3 L49.4 485.9 L50.9 477.9 L48.4 472.4 L44.9 470.5 L38.0 464.5 L36.5 459.5 L37.5 452.0 L39.8 444.5 L37.6 439.8 L40.7 435.0Z"/></clipPath><g clip-path="url(#clipc)"><polygon points="0.0,340.0 400.0,340.0 400.0,700.0 0.0,700.0" fill="#7DC87D"/><path d="M20.0 500.0 C26.6 500.1 50.7 500.3 59.8 500.8 C68.9 501.3 69.4 502.3 74.7 503.2 C80.0 504.1 86.6 505.6 91.6 506.2 C96.6 506.8 100.7 507.3 104.5 506.7 C108.3 506.1 111.1 504.8 114.4 502.7 C117.7 500.6 121.7 496.0 124.3 493.8 C126.9 491.6 128.0 491.2 130.0 489.3 C132.0 487.4 133.4 484.6 136.2 482.5 C139.0 480.4 143.0 478.5 147.0 477.0 C151.0 475.5 155.3 474.4 160.0 473.7 C164.7 473.0 167.2 472.9 175.0 472.9 C182.8 472.9 196.2 472.4 206.8 473.7 C217.4 475.0 231.4 479.4 238.6 480.9 C245.8 482.4 244.8 482.2 250.0 482.7 C255.2 483.2 264.1 484.0 269.9 483.7 C275.7 483.4 279.8 482.0 284.8 480.7 C289.8 479.4 293.8 477.8 299.7 475.7 C305.6 473.6 312.4 469.3 320.0 468.0 C327.6 466.7 340.8 468.0 345.0 468.0 L345.0 690.0 L20.0 690.0Z" fill="#CEB3C2"/><path d="M20.0 552.0 C31.2 551.8 73.8 551.7 87.0 550.5 C100.2 549.3 95.2 546.8 99.0 545.0 C102.8 543.2 106.3 541.8 109.8 539.9 C113.3 538.0 116.7 535.5 120.0 533.8 C123.3 532.1 126.6 531.0 129.9 529.8 C133.2 528.6 135.8 527.2 139.9 526.4 C144.1 525.6 151.2 524.7 154.8 524.9 C158.4 525.1 159.2 526.5 161.7 527.8 C164.2 529.1 166.7 531.1 169.7 532.8 C172.7 534.5 175.5 536.1 179.6 537.8 C183.7 539.4 189.5 541.3 194.5 542.7 C199.5 544.1 204.8 545.5 209.4 546.2 C214.0 546.9 216.9 547.0 222.0 546.8 C227.1 546.6 233.7 545.3 240.0 545.2 C246.3 545.1 252.9 545.5 259.9 546.2 C266.8 546.9 275.0 548.4 281.7 549.2 C288.4 550.0 289.4 550.7 300.0 551.0 C310.6 551.3 337.5 551.0 345.0 551.0 L345.0 690.0 L20.0 690.0Z" fill="#FFE48F"/><path d="M100.0 583.0 C110.7 582.9 151.1 582.8 164.4 582.6 C177.7 582.4 172.2 582.2 180.0 581.6 C187.8 581.0 202.7 579.3 211.5 578.7 C220.3 578.1 227.5 578.2 233.1 578.1 C238.7 578.0 242.1 577.7 245.2 578.1 C248.3 578.5 250.2 579.9 251.8 580.8 C253.4 581.7 252.0 582.0 255.0 583.5 C258.0 585.0 255.0 588.9 270.0 590.0 C285.0 591.1 332.5 590.0 345.0 590.0 L345.0 690.0 L100.0 690.0Z" fill="#4F7DAF"/><path d="M200.0 612.0 C203.3 611.9 215.9 611.4 220.0 611.2 C224.1 611.0 222.0 611.1 224.4 610.9 C226.8 610.7 230.9 609.7 234.2 609.8 C237.5 609.9 241.0 610.5 244.1 611.5 C247.2 612.5 249.9 614.1 252.9 615.9 C255.9 617.6 260.5 621.0 262.0 622.0 L270.0 690.0 L200.0 690.0Z" fill="#E8106A"/></g><path d="M38.4 431.6 L42.9 432.0 L49.9 431.3 L56.8 430.6 L66.7 433.8 L74.7 432.8 L85.6 431.6 L107.5 413.9 L130.0 412.1 L149.7 410.4 L187.5 407.9 L212.9 408.8 L213.9 403.8 L229.8 406.3 L243.7 408.8 L245.7 400.9 L248.7 398.9 L257.1 389.4 L261.6 389.4 L264.5 388.4 L267.0 386.5 L275.5 404.8 L282.4 418.7 L282.9 423.7 L282.4 444.5 L291.7 453.4 L296.7 455.4 L301.6 465.8 L301.1 473.8 L303.6 489.7 L309.6 500.6 L311.5 505.0 L313.1 510.5 L303.6 512.4 L295.6 518.4 L289.7 524.8 L283.7 525.8 L283.2 532.8 L283.2 546.7 L279.7 558.6 L274.8 565.5 L271.5 569.9 L263.8 576.4 L255.0 583.5 L254.0 586.3 L254.0 598.3 L252.9 608.2 L252.3 613.7 L254.5 617.0 L253.4 621.3 L250.7 625.7 L251.8 631.2 L254.0 634.5 L250.7 638.3 L247.4 637.8 L245.2 634.5 L241.9 629.0 L237.4 626.9 L233.5 626.7 L230.2 624.8 L227.9 618.0 L225.0 612.5 L221.0 609.8 L216.5 606.8 L203.6 593.9 L196.7 597.4 L193.7 600.9 L184.8 601.4 L176.8 603.3 L174.8 604.8 L175.8 614.8 L179.8 619.2 L175.3 625.2 L154.5 596.4 L159.9 592.9 L166.9 591.9 L165.4 587.9 L164.9 583.0 L162.4 579.7 L159.4 576.7 L155.5 573.2 L148.5 573.2 L144.5 577.7 L141.6 581.1 L131.6 579.7 L123.7 578.7 L117.7 574.7 L110.8 568.7 L101.8 561.8 L94.9 556.3 L89.9 554.3 L87.4 552.8 L87.9 532.5 L93.9 533.0 L98.9 535.5 L102.8 534.5 L105.6 533.0 L104.0 531.2 L101.4 531.0 L97.5 528.6 L90.1 525.1 L89.6 521.6 L83.6 518.6 L76.7 516.6 L75.7 514.2 L67.7 513.2 L64.8 510.7 L64.3 507.7 L59.8 502.7 L56.8 497.8 L50.9 489.3 L49.4 485.9 L50.9 477.9 L48.4 472.4 L44.9 470.5 L38.0 464.5 L36.5 459.5 L37.5 452.0 L39.8 444.5 L37.6 439.8 L40.7 435.0Z" fill="none" stroke="#000" stroke-width="2.0" stroke-linejoin="round"/><polygon points="82.20,445.80 82.93,447.29 84.58,447.53 83.39,448.69 83.67,450.32 82.20,449.55 80.73,450.32 81.01,448.69 79.82,447.53 81.47,447.29" fill="#111"/><text transform="translate(82.2 444.9) scale(0.86 1)" font-size="6.8" text-anchor="middle" fill="#1a1a1a">Ayorou</text><polygon points="115.90,478.40 116.63,479.89 118.28,480.13 117.09,481.29 117.37,482.92 115.90,482.15 114.43,482.92 114.71,481.29 113.52,480.13 115.17,479.89" fill="#111"/><text transform="translate(115.9 477.5) scale(0.86 1)" font-size="6.8" text-anchor="middle" fill="#1a1a1a">Tillaberi</text><polygon points="155.60,471.20 156.33,472.69 157.98,472.93 156.79,474.09 157.07,475.72 155.60,474.95 154.13,475.72 154.41,474.09 153.22,472.93 154.87,472.69" fill="#111"/><text transform="translate(155.6 470.3) scale(0.86 1)" font-size="6.8" text-anchor="middle" fill="#1a1a1a">Ouallam</text><polygon points="71.10,490.80 71.83,492.29 73.48,492.53 72.29,493.69 72.57,495.32 71.10,494.55 69.63,495.32 69.91,493.69 68.72,492.53 70.37,492.29" fill="#111"/><text transform="translate(71.1 489.9) scale(0.86 1)" font-size="6.8" text-anchor="middle" fill="#1a1a1a">Tera</text><polygon points="193.70,426.40 194.43,427.89 196.08,428.13 194.89,429.29 195.17,430.92 193.70,430.15 192.23,430.92 192.51,429.29 191.32,428.13 192.97,427.89" fill="#111"/><text transform="translate(193.7 425.5) scale(0.86 1)" font-size="6.8" text-anchor="middle" fill="#1a1a1a">Banibangou</text><polygon points="239.30,432.80 240.03,434.29 241.68,434.53 240.49,435.69 240.77,437.32 239.30,436.55 237.83,437.32 238.11,435.69 236.92,434.53 238.57,434.29" fill="#111"/><text transform="translate(239.3 431.9) scale(0.86 1)" font-size="6.8" text-anchor="middle" fill="#1a1a1a">Abala</text><polygon points="239.80,475.20 240.53,476.69 242.18,476.93 240.99,478.09 241.27,479.72 239.80,478.95 238.33,479.72 238.61,478.09 237.42,476.93 239.07,476.69" fill="#111"/><text transform="translate(239.8 474.3) scale(0.86 1)" font-size="6.8" text-anchor="middle" fill="#1a1a1a">Chikal</text><polygon points="160.80,523.70 161.53,525.19 163.18,525.43 161.99,526.59 162.27,528.22 160.80,527.45 159.33,528.22 159.61,526.59 158.42,525.43 160.07,525.19" fill="#111"/><text transform="translate(160.8 522.8) scale(0.86 1)" font-size="6.8" text-anchor="middle" fill="#1a1a1a">Niamey</text><polygon points="160.80,569.30 161.53,570.79 163.18,571.03 161.99,572.19 162.27,573.82 160.80,573.05 159.33,573.82 159.61,572.19 158.42,571.03 160.07,570.79" fill="#111"/><text transform="translate(160.8 568.4) scale(0.86 1)" font-size="6.8" text-anchor="middle" fill="#1a1a1a">Tamou</text><polygon points="224.60,552.60 225.33,554.09 226.98,554.33 225.79,555.49 226.07,557.12 224.60,556.35 223.13,557.12 223.41,555.49 222.22,554.33 223.87,554.09" fill="#111"/><text transform="translate(224.6 551.7) scale(0.86 1)" font-size="6.8" text-anchor="middle" fill="#1a1a1a">Dosso</text><polygon points="277.50,514.20 278.23,515.69 279.88,515.93 278.69,517.09 278.97,518.72 277.50,517.95 276.03,518.72 276.31,517.09 275.12,515.93 276.77,515.69" fill="#111"/><text transform="translate(277.5 513.3) scale(0.86 1)" font-size="6.8" text-anchor="middle" fill="#1a1a1a">Doutchi</text><polygon points="246.50,577.70 247.23,579.19 248.88,579.43 247.69,580.59 247.97,582.22 246.50,581.45 245.03,582.22 245.31,580.59 244.12,579.43 245.77,579.19" fill="#111"/><text transform="translate(246.5 576.8) scale(0.86 1)" font-size="6.8" text-anchor="middle" fill="#1a1a1a">Dioundiou</text><text transform="translate(240.1 622.7) scale(0.86 1)" font-size="6.8" text-anchor="middle" fill="#1a1a1a">Gaya</text>
<polygon points="61.2,382.4 71.4,411.0 61.2,403.8 51.7,411.0" fill="#000"/><text x="61.0" y="377.4" font-family="Liberation Serif, serif" font-size="10" text-anchor="middle" fill="#222">N</text>
<rect x="26.7" y="626.7" width="46.6" height="54.3" fill="#fff" stroke="#a0a0a0" stroke-width="1.9"/><text transform="translate(50.0 658.6) scale(1.000 1)" font-size="24.0" text-anchor="middle" fill="#000">c</text>
<rect x="342.1" y="392.3" width="12.6" height="52.3" fill="#E8106A"/><rect x="342.1" y="444.6" width="12.6" height="51.8" fill="#4F7DAF"/><rect x="342.1" y="496.4" width="12.6" height="53.2" fill="#FFE48F"/><rect x="342.1" y="549.6" width="12.6" height="51.7" fill="#CEB3C2"/><rect x="342.1" y="601.3" width="12.6" height="52.0" fill="#7DC87D"/><text transform="translate(370.4 403.9) scale(0.840 1)" font-size="16.2" fill="#1a1a1a" stroke="#1a1a1a" stroke-width="0.25">145 Days</text><text transform="translate(370.4 451.5) scale(0.840 1)" font-size="16.2" fill="#1a1a1a" stroke="#1a1a1a" stroke-width="0.25">135 Days</text><text transform="translate(370.4 498.0) scale(0.840 1)" font-size="16.2" fill="#1a1a1a" stroke="#1a1a1a" stroke-width="0.25">120 Days</text><text transform="translate(370.4 546.3) scale(0.840 1)" font-size="16.2" fill="#1a1a1a" stroke="#1a1a1a" stroke-width="0.25">105 Days</text><text transform="translate(370.4 593.4) scale(0.840 1)" font-size="16.2" fill="#1a1a1a" stroke="#1a1a1a" stroke-width="0.25">90 Days</text><text transform="translate(370.4 640.9) scale(0.840 1)" font-size="16.2" fill="#1a1a1a" stroke="#1a1a1a" stroke-width="0.25">75 Days</text>
<line x1="359" y1="657.4" x2="360" y2="657.4" stroke="#888" stroke-width="0.8"/><line x1="362" y1="657.4" x2="366" y2="657.4" stroke="#444" stroke-width="1"/>
<rect x="485.9" y="353.6" width="309.5" height="319.8" fill="none" stroke="#444" stroke-width="1.30"/><line x1="485.9" y1="673.4" x2="485.9" y2="676.9" stroke="#333" stroke-width="1"/><line x1="485.9" y1="350.1" x2="485.9" y2="353.6" stroke="#333" stroke-width="1"/><text x="485.9" y="684.7" font-size="6.8" text-anchor="middle" fill="#222">0</text><line x1="547.8" y1="673.4" x2="547.8" y2="676.9" stroke="#333" stroke-width="1"/><line x1="547.8" y1="350.1" x2="547.8" y2="353.6" stroke="#333" stroke-width="1"/><text x="547.8" y="684.7" font-size="6.8" text-anchor="middle" fill="#222">1</text><line x1="609.7" y1="673.4" x2="609.7" y2="676.9" stroke="#333" stroke-width="1"/><line x1="609.7" y1="350.1" x2="609.7" y2="353.6" stroke="#333" stroke-width="1"/><text x="609.7" y="684.7" font-size="6.8" text-anchor="middle" fill="#222">2</text><line x1="671.6" y1="673.4" x2="671.6" y2="676.9" stroke="#333" stroke-width="1"/><line x1="671.6" y1="350.1" x2="671.6" y2="353.6" stroke="#333" stroke-width="1"/><text x="671.6" y="684.7" font-size="6.8" text-anchor="middle" fill="#222">3</text><line x1="733.5" y1="673.4" x2="733.5" y2="676.9" stroke="#333" stroke-width="1"/><line x1="733.5" y1="350.1" x2="733.5" y2="353.6" stroke="#333" stroke-width="1"/><text x="733.5" y="684.7" font-size="6.8" text-anchor="middle" fill="#222">4</text><line x1="795.4" y1="673.4" x2="795.4" y2="676.9" stroke="#333" stroke-width="1"/><line x1="795.4" y1="350.1" x2="795.4" y2="353.6" stroke="#333" stroke-width="1"/><text x="795.4" y="684.7" font-size="6.8" text-anchor="middle" fill="#222">5</text><line x1="482.4" y1="353.6" x2="485.9" y2="353.6" stroke="#333" stroke-width="1"/><line x1="795.4" y1="353.6" x2="798.9" y2="353.6" stroke="#333" stroke-width="1"/><text x="482.3" y="356.0" font-size="6.8" text-anchor="end" fill="#222">16</text><line x1="482.4" y1="417.6" x2="485.9" y2="417.6" stroke="#333" stroke-width="1"/><line x1="795.4" y1="417.6" x2="798.9" y2="417.6" stroke="#333" stroke-width="1"/><text x="482.3" y="420.0" font-size="6.8" text-anchor="end" fill="#222">15</text><line x1="482.4" y1="481.5" x2="485.9" y2="481.5" stroke="#333" stroke-width="1"/><line x1="795.4" y1="481.5" x2="798.9" y2="481.5" stroke="#333" stroke-width="1"/><text x="482.3" y="483.9" font-size="6.8" text-anchor="end" fill="#222">14</text><line x1="482.4" y1="545.5" x2="485.9" y2="545.5" stroke="#333" stroke-width="1"/><line x1="795.4" y1="545.5" x2="798.9" y2="545.5" stroke="#333" stroke-width="1"/><text x="482.3" y="547.9" font-size="6.8" text-anchor="end" fill="#222">13</text><line x1="482.4" y1="609.4" x2="485.9" y2="609.4" stroke="#333" stroke-width="1"/><line x1="795.4" y1="609.4" x2="798.9" y2="609.4" stroke="#333" stroke-width="1"/><text x="482.3" y="611.8" font-size="6.8" text-anchor="end" fill="#222">12</text><line x1="482.4" y1="673.4" x2="485.9" y2="673.4" stroke="#333" stroke-width="1"/><line x1="795.4" y1="673.4" x2="798.9" y2="673.4" stroke="#333" stroke-width="1"/><text x="482.3" y="675.8" font-size="6.8" text-anchor="end" fill="#222">11</text>
<clipPath id="clipd"><path d="M500.3 418.7 L504.7 419.1 L511.7 418.4 L518.5 417.7 L528.3 420.9 L536.2 419.9 L547.0 418.7 L568.6 400.7 L590.8 398.8 L610.3 397.1 L647.7 394.6 L672.8 395.5 L673.7 390.4 L689.5 392.9 L703.2 395.5 L705.2 387.4 L708.1 385.4 L716.4 375.7 L720.9 375.7 L723.8 374.7 L726.2 372.8 L734.6 391.4 L741.4 405.6 L741.9 410.7 L741.4 431.8 L750.6 440.9 L755.6 442.9 L760.4 453.5 L759.9 461.7 L762.4 477.9 L768.3 489.0 L770.2 493.5 L771.8 499.1 L762.4 501.0 L754.5 507.1 L748.7 513.7 L742.7 514.7 L742.2 521.8 L742.2 536.0 L738.8 548.1 L733.9 555.1 L730.7 559.6 L723.1 566.2 L714.4 573.5 L713.4 576.3 L713.4 588.5 L712.3 598.6 L711.7 604.2 L713.9 607.6 L712.8 612.0 L710.1 616.4 L711.2 622.1 L713.4 625.4 L710.1 629.3 L706.9 628.8 L704.7 625.4 L701.4 619.8 L697.0 617.7 L693.1 617.5 L689.9 615.5 L687.6 608.6 L684.7 603.0 L680.8 600.3 L676.3 597.2 L663.6 584.1 L656.8 587.6 L653.8 591.2 L645.0 591.7 L637.1 593.6 L635.1 595.2 L636.1 605.3 L640.0 609.8 L635.6 615.9 L615.0 586.6 L620.4 583.0 L627.3 582.0 L625.8 577.9 L625.3 572.9 L622.9 569.6 L619.9 566.5 L616.0 563.0 L609.1 563.0 L605.2 567.5 L602.3 571.0 L592.4 569.6 L584.6 568.6 L578.7 564.5 L571.9 558.4 L563.0 551.3 L556.1 545.7 L551.2 543.7 L548.7 542.2 L549.2 521.5 L555.2 522.0 L560.1 524.6 L563.9 523.5 L566.7 522.0 L565.1 520.2 L562.6 520.0 L558.7 517.5 L551.4 514.0 L550.9 510.4 L545.0 507.3 L538.2 505.3 L537.2 502.9 L529.3 501.8 L526.4 499.3 L525.9 496.2 L521.5 491.1 L518.5 486.1 L512.7 477.5 L511.2 474.0 L512.7 465.9 L510.2 460.3 L506.7 458.3 L499.9 452.2 L498.4 447.1 L499.4 439.5 L501.7 431.8 L499.5 427.1 L502.6 422.2Z"/></clipPath><g clip-path="url(#clipd)"><polygon points="470.0,340.0 810.0,340.0 810.0,700.0 470.0,700.0" fill="#634594"/><path d="M480.0 522.0 C493.8 521.6 548.7 520.3 563.0 519.5 C577.3 518.7 564.2 518.2 566.0 517.4 C567.8 516.5 571.2 515.8 573.8 514.4 C576.4 513.0 579.1 510.9 581.8 508.8 C584.4 506.7 587.1 503.9 589.7 501.7 C592.4 499.4 595.1 496.8 597.7 495.3 C600.4 493.8 602.3 493.3 605.6 492.5 C608.9 491.7 613.4 490.9 617.5 490.6 C621.6 490.3 625.6 490.5 630.0 490.6 C634.4 490.8 639.3 490.5 643.9 491.5 C648.5 492.5 653.2 494.4 657.8 496.7 C662.4 499.0 667.1 502.8 671.7 505.1 C676.3 507.4 681.7 510.1 685.6 510.6 C689.5 511.1 691.6 510.7 695.3 507.9 C699.0 505.1 702.6 500.3 707.9 494.0 C713.2 487.7 719.9 478.7 727.3 470.3 C734.7 461.9 745.2 451.4 752.3 443.9 C759.4 436.3 762.0 428.1 770.0 425.0 C778.0 421.9 795.0 425.0 800.0 425.0 L800.0 690.0 L480.0 690.0Z" fill="#B9B4D7"/><ellipse cx="576.5" cy="468" rx="9.2" ry="8.5" fill="#B9B4D7"/><path d="M514.0 491.0 C514.8 490.2 516.5 488.2 518.5 486.2 C520.5 484.2 523.6 481.0 526.0 479.2 C528.4 477.4 531.0 476.4 533.0 475.6 C535.0 474.8 536.5 474.3 537.8 474.6 C539.1 474.9 540.4 476.1 541.0 477.2 C541.6 478.3 541.7 479.7 541.3 481.5 C540.9 483.3 539.5 485.8 538.6 488.0 C537.7 490.2 536.4 492.0 535.7 494.5 C535.0 497.0 534.8 501.6 534.6 503.0 L520.0 508.0Z" fill="#B9B4D7"/><path d="M600.0 592.0 C603.4 591.8 614.0 592.3 620.6 590.8 C627.2 589.3 632.6 585.4 639.7 582.9 C646.9 580.4 656.9 578.6 663.5 575.7 C670.1 572.8 672.8 568.7 679.4 565.4 C686.0 562.1 693.9 558.7 703.2 555.9 C712.5 553.1 728.9 550.0 735.0 548.7 C741.1 547.4 729.2 548.1 740.0 548.0 C750.8 547.9 790.0 548.0 800.0 548.0 L800.0 690.0 L600.0 690.0Z" fill="#FDCB8C"/><path d="M670.0 606.0 C672.1 605.2 678.4 603.2 682.6 601.2 C686.8 599.2 690.7 595.6 695.3 594.0 C699.9 592.4 706.3 592.1 710.4 591.6 C714.5 591.1 718.4 591.1 720.0 591.0 L720.0 690.0 L670.0 690.0Z" fill="#B54200"/></g><path d="M500.3 418.7 L504.7 419.1 L511.7 418.4 L518.5 417.7 L528.3 420.9 L536.2 419.9 L547.0 418.7 L568.6 400.7 L590.8 398.8 L610.3 397.1 L647.7 394.6 L672.8 395.5 L673.7 390.4 L689.5 392.9 L703.2 395.5 L705.2 387.4 L708.1 385.4 L716.4 375.7 L720.9 375.7 L723.8 374.7 L726.2 372.8 L734.6 391.4 L741.4 405.6 L741.9 410.7 L741.4 431.8 L750.6 440.9 L755.6 442.9 L760.4 453.5 L759.9 461.7 L762.4 477.9 L768.3 489.0 L770.2 493.5 L771.8 499.1 L762.4 501.0 L754.5 507.1 L748.7 513.7 L742.7 514.7 L742.2 521.8 L742.2 536.0 L738.8 548.1 L733.9 555.1 L730.7 559.6 L723.1 566.2 L714.4 573.5 L713.4 576.3 L713.4 588.5 L712.3 598.6 L711.7 604.2 L713.9 607.6 L712.8 612.0 L710.1 616.4 L711.2 622.1 L713.4 625.4 L710.1 629.3 L706.9 628.8 L704.7 625.4 L701.4 619.8 L697.0 617.7 L693.1 617.5 L689.9 615.5 L687.6 608.6 L684.7 603.0 L680.8 600.3 L676.3 597.2 L663.6 584.1 L656.8 587.6 L653.8 591.2 L645.0 591.7 L637.1 593.6 L635.1 595.2 L636.1 605.3 L640.0 609.8 L635.6 615.9 L615.0 586.6 L620.4 583.0 L627.3 582.0 L625.8 577.9 L625.3 572.9 L622.9 569.6 L619.9 566.5 L616.0 563.0 L609.1 563.0 L605.2 567.5 L602.3 571.0 L592.4 569.6 L584.6 568.6 L578.7 564.5 L571.9 558.4 L563.0 551.3 L556.1 545.7 L551.2 543.7 L548.7 542.2 L549.2 521.5 L555.2 522.0 L560.1 524.6 L563.9 523.5 L566.7 522.0 L565.1 520.2 L562.6 520.0 L558.7 517.5 L551.4 514.0 L550.9 510.4 L545.0 507.3 L538.2 505.3 L537.2 502.9 L529.3 501.8 L526.4 499.3 L525.9 496.2 L521.5 491.1 L518.5 486.1 L512.7 477.5 L511.2 474.0 L512.7 465.9 L510.2 460.3 L506.7 458.3 L499.9 452.2 L498.4 447.1 L499.4 439.5 L501.7 431.8 L499.5 427.1 L502.6 422.2Z" fill="none" stroke="#000" stroke-width="2.0" stroke-linejoin="round"/><polygon points="543.59,433.21 544.32,434.70 545.97,434.94 544.78,436.10 545.06,437.74 543.59,436.96 542.12,437.74 542.40,436.10 541.21,434.94 542.86,434.70" fill="#111"/><text transform="translate(543.6 432.3) scale(0.86 1)" font-size="6.8" text-anchor="middle" fill="#1a1a1a">Ayorou</text><polygon points="576.90,466.43 577.63,467.92 579.27,468.16 578.08,469.31 578.37,470.95 576.90,470.18 575.43,470.95 575.71,469.31 574.52,468.16 576.16,467.92" fill="#111"/><text transform="translate(576.9 465.5) scale(0.86 1)" font-size="6.8" text-anchor="middle" fill="#1a1a1a">Tillaberi</text><polygon points="616.13,459.09 616.87,460.58 618.51,460.82 617.32,461.98 617.60,463.61 616.13,462.84 614.66,463.61 614.94,461.98 613.75,460.82 615.40,460.58" fill="#111"/><text transform="translate(616.1 458.2) scale(0.86 1)" font-size="6.8" text-anchor="middle" fill="#1a1a1a">Ouallam</text><polygon points="532.62,479.06 533.35,480.55 535.00,480.79 533.81,481.95 534.09,483.58 532.62,482.81 531.15,483.58 531.43,481.95 530.24,480.79 531.89,480.55" fill="#111"/><text transform="translate(532.6 478.2) scale(0.86 1)" font-size="6.8" text-anchor="middle" fill="#1a1a1a">Tera</text><polygon points="653.79,413.45 654.52,414.94 656.16,415.18 654.97,416.34 655.25,417.97 653.79,417.20 652.32,417.97 652.60,416.34 651.41,415.18 653.05,414.94" fill="#111"/><text transform="translate(653.8 412.6) scale(0.86 1)" font-size="6.8" text-anchor="middle" fill="#1a1a1a">Banibangou</text><polygon points="698.85,419.97 699.59,421.46 701.23,421.70 700.04,422.86 700.32,424.49 698.85,423.72 697.38,424.49 697.66,422.86 696.47,421.70 698.12,421.46" fill="#111"/><text transform="translate(698.9 419.1) scale(0.86 1)" font-size="6.8" text-anchor="middle" fill="#1a1a1a">Abala</text><polygon points="699.35,463.17 700.08,464.66 701.72,464.89 700.53,466.05 700.82,467.69 699.35,466.92 697.88,467.69 698.16,466.05 696.97,464.89 698.61,464.66" fill="#111"/><text transform="translate(699.3 462.3) scale(0.86 1)" font-size="6.8" text-anchor="middle" fill="#1a1a1a">Chikal</text><polygon points="621.27,512.58 622.00,514.07 623.65,514.31 622.46,515.47 622.74,517.10 621.27,516.33 619.80,517.10 620.08,515.47 618.89,514.31 620.54,514.07" fill="#111"/><text transform="translate(621.3 511.7) scale(0.86 1)" font-size="6.8" text-anchor="middle" fill="#1a1a1a">Niamey</text><polygon points="621.27,559.04 622.00,560.52 623.65,560.76 622.46,561.92 622.74,563.56 621.27,562.79 619.80,563.56 620.08,561.92 618.89,560.76 620.54,560.52" fill="#111"/><text transform="translate(621.3 558.1) scale(0.86 1)" font-size="6.8" text-anchor="middle" fill="#1a1a1a">Tamou</text><polygon points="684.32,542.02 685.06,543.51 686.70,543.75 685.51,544.91 685.79,546.54 684.32,545.77 682.85,546.54 683.13,544.91 681.95,543.75 683.59,543.51" fill="#111"/><text transform="translate(684.3 541.1) scale(0.86 1)" font-size="6.8" text-anchor="middle" fill="#1a1a1a">Dosso</text><polygon points="736.60,502.90 737.34,504.39 738.98,504.63 737.79,505.79 738.07,507.42 736.60,506.65 735.14,507.42 735.42,505.79 734.23,504.63 735.87,504.39" fill="#111"/><text transform="translate(736.6 502.0) scale(0.86 1)" font-size="6.8" text-anchor="middle" fill="#1a1a1a">Doutchi</text><polygon points="705.97,567.59 706.70,569.08 708.34,569.32 707.16,570.48 707.44,572.12 705.97,571.34 704.50,572.12 704.78,570.48 703.59,569.32 705.23,569.08" fill="#111"/><text transform="translate(706.0 566.7) scale(0.86 1)" font-size="6.8" text-anchor="middle" fill="#1a1a1a">Dioundiou</text><text transform="translate(699.6 613.4) scale(0.86 1)" font-size="6.8" text-anchor="middle" fill="#1a1a1a">Gaya</text>
<polygon points="518.2,379.1 528.1,407.7 518.2,402.1 508.2,407.7" fill="#000"/><text x="518.2" y="373.8" font-family="Liberation Serif, serif" font-size="10" text-anchor="middle" fill="#222">N</text>
<rect x="487.0" y="614.8" width="47.4" height="53.8" fill="#fff" stroke="#a0a0a0" stroke-width="1.9"/><text transform="translate(510.7 647.0) scale(1.000 1)" font-size="26.0" text-anchor="middle" fill="#000">d</text>
<rect x="799.0" y="382.1" width="12.3" height="67.2" fill="#B54200"/><rect x="799.0" y="449.3" width="12.3" height="68.4" fill="#FDCB8C"/><rect x="799.0" y="517.7" width="12.3" height="67.1" fill="#B9B4D7"/><rect x="799.0" y="584.8" width="12.3" height="67.5" fill="#634594"/><text transform="translate(828.5 415.9) scale(0.855 1)" font-size="15.8" fill="#1a1a1a" stroke="#1a1a1a" stroke-width="0.25">58 Days</text><text transform="translate(828.5 475.7) scale(0.855 1)" font-size="15.8" fill="#1a1a1a" stroke="#1a1a1a" stroke-width="0.25">50 Days</text><text transform="translate(828.5 535.2) scale(0.855 1)" font-size="15.8" fill="#1a1a1a" stroke="#1a1a1a" stroke-width="0.25">42 Days</text><text transform="translate(828.5 595.0) scale(0.855 1)" font-size="15.8" fill="#1a1a1a" stroke="#1a1a1a" stroke-width="0.25">32 Days</text><text transform="translate(828.5 654.1) scale(0.855 1)" font-size="15.8" fill="#1a1a1a" stroke="#1a1a1a" stroke-width="0.25">24 Days</text>
<line x1="813.8" y1="377.6" x2="813.8" y2="384.6" stroke="#666" stroke-width="0.8" stroke-dasharray="1.6 1.4"/>
<line x1="813.8" y1="444.8" x2="813.8" y2="451.8" stroke="#666" stroke-width="0.8" stroke-dasharray="1.6 1.4"/>
<line x1="813.8" y1="513.2" x2="813.8" y2="520.2" stroke="#666" stroke-width="0.8" stroke-dasharray="1.6 1.4"/>
<line x1="813.8" y1="580.3" x2="813.8" y2="587.3" stroke="#666" stroke-width="0.8" stroke-dasharray="1.6 1.4"/>
<line x1="813.8" y1="647.8" x2="813.8" y2="654.8" stroke="#666" stroke-width="0.8" stroke-dasharray="1.6 1.4"/>
</svg>
</body></html>
